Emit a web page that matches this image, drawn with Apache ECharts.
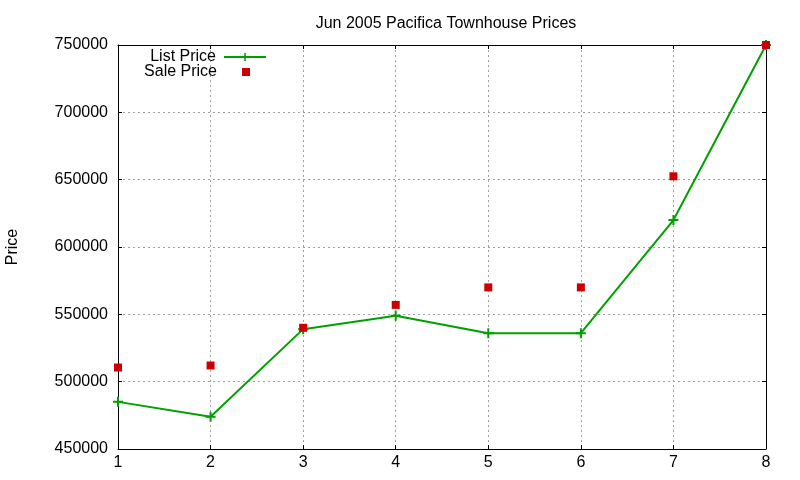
<!DOCTYPE html>
<html>
<head>
<meta charset="utf-8">
<script src="https://cdn.jsdelivr.net/npm/echarts@6/dist/echarts.min.js"></script>
<style>html,body{margin:0;padding:0;background:#fff}#c{width:800px;height:480px}</style>
</head>
<body>
<div id="c"></div>
<script>
const chartTitle = 'Jun 2005 Pacifica Townhouse Prices';
const yAxisName = 'Price';
const xValues = [1, 2, 3, 4, 5, 6, 7, 8];
const listPrice = [485000, 474000, 539000, 549000, 536000, 536000, 620000, 750000];
const salePrice = [510500, 512000, 540000, 557000, 570000, 570000, 652500, 750000];

const FONT = 'Liberation Sans, Arial, sans-serif';
const chart = echarts.init(document.getElementById('c'));
const plus = 'path://M4,0 H6 V4 H10 V6 H6 V10 H4 V6 H0 V4 H4 Z';
const sqIcon = 'path://M0,0 M42,10 M17,1 H25 V9 H17 Z';

const axisCommon = {
  type: 'value',
  axisLine: { show: true, onZero: false, lineStyle: { color: '#000', width: 1 } },
  axisTick: { show: true, inside: true, length: 4, lineStyle: { color: '#000' } },
  axisLabel: { color: '#000', fontFamily: FONT, fontSize: 16, formatter: v => String(v) }
};

chart.setOption({
  animation: false,
  backgroundColor: '#fff',
  title: {
    text: chartTitle, left: 441, top: 11, textAlign: 'center',
    textStyle: { fontFamily: FONT, fontSize: 16, fontWeight: 'normal', color: '#000' }
  },
  grid: { left: 118, right: 34, top: 45, bottom: 31, containLabel: false, outerBoundsMode: 'none' },
  legend: [
    {
      data: [{ name: 'List Price' }],
      orient: 'vertical', align: 'right', right: 533, top: 49,
      itemWidth: 42, itemHeight: 10, itemGap: 5, padding: 0,
      textStyle: { fontFamily: FONT, fontSize: 16, color: '#000', padding: [0, 3, 0, 0] }
    },
    {
      data: [{ name: 'Sale Price', icon: sqIcon }],
      orient: 'vertical', align: 'right', right: 533, top: 64,
      itemWidth: 42, itemHeight: 10, itemGap: 5, padding: 0,
      textStyle: { fontFamily: FONT, fontSize: 16, color: '#000', padding: [0, 3, 0, 0] }
    }
  ],
  xAxis: [
    Object.assign({}, axisCommon, {
      min: 1, max: 8, interval: 1, position: 'bottom',
      axisLabel: Object.assign({}, axisCommon.axisLabel, { margin: 6 }),
      splitLine: { show: true, lineStyle: { color: '#a0a0a0', type: [2, 3], width: 1 } }
    }),
    Object.assign({}, axisCommon, {
      min: 1, max: 8, interval: 1, position: 'top',
      axisLabel: { show: false }, splitLine: { show: false }
    })
  ],
  yAxis: [
    Object.assign({}, axisCommon, {
      min: 450000, max: 750000, interval: 50000, position: 'left',
      name: yAxisName, nameLocation: 'middle', nameGap: 97, nameRotate: 90,
      nameTextStyle: { fontFamily: FONT, fontSize: 16, color: '#000' },
      axisLabel: Object.assign({}, axisCommon.axisLabel, { margin: 10 }),
      splitLine: { show: true, lineStyle: { color: '#a0a0a0', type: [2, 3], width: 1 } }
    }),
    Object.assign({}, axisCommon, {
      min: 450000, max: 750000, interval: 50000, position: 'right',
      axisLabel: { show: false }, splitLine: { show: false }
    })
  ],
  series: [
    {
      name: 'List Price', type: 'line',
      data: xValues.map((x, i) => [x, listPrice[i]]),
      symbol: plus, symbolSize: 10, showSymbol: true,
      lineStyle: { color: '#00a000', width: 2 },
      itemStyle: { color: '#00a000' },
      z: 2
    },
    {
      name: 'Sale Price', type: 'scatter',
      data: xValues.map((x, i) => [x, salePrice[i]]),
      symbol: 'rect', symbolSize: 8,
      itemStyle: { color: '#cc0000', opacity: 1 },
      z: 3
    }
  ]
});
</script>
</body>
</html>
